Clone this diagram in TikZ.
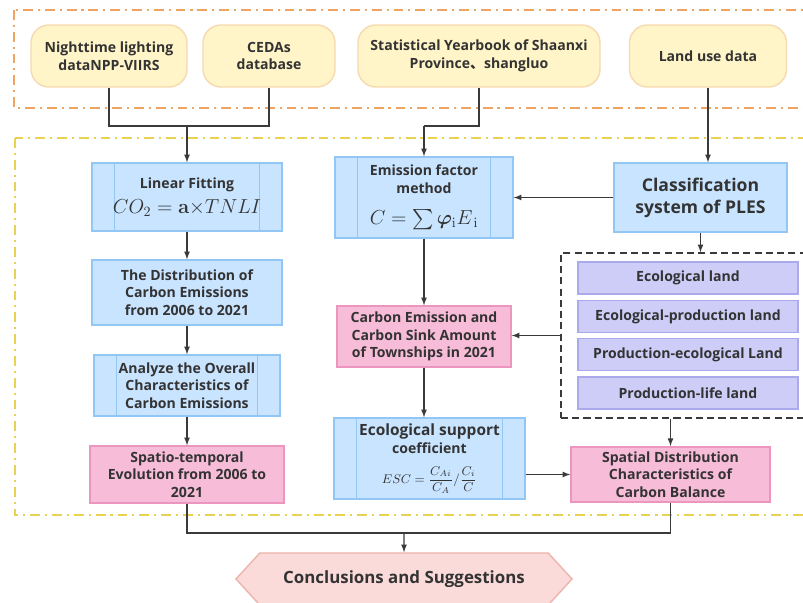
\documentclass[tikz,border=0pt]{standalone}
\usepackage{amsmath,amssymb}
\usepackage{bm}
\usepackage[no-math]{fontspec}
\setmainfont{Open Sans}
\newfontfamily\cjk{Noto Sans CJK SC}
\usetikzlibrary{arrows,shapes.symbols}
\definecolor{txtgray}{HTML}{333333}
\definecolor{linegray}{HTML}{3A3A3A}
\definecolor{srcfill}{HTML}{FFF5C8}
\definecolor{srcline}{HTML}{F7D9AE}
\definecolor{bluefill}{HTML}{C9E4FF}
\definecolor{blueline}{HTML}{92C6F4}
\definecolor{pinkfill}{HTML}{F7BCD8}
\definecolor{pinkline}{HTML}{EC95BF}
\definecolor{lavfill}{HTML}{CDCDF8}
\definecolor{lavline}{HTML}{A9A9EC}
\definecolor{hexfill}{HTML}{FADBD9}
\definecolor{hexline}{HTML}{EEB4AB}
\definecolor{orangeframe}{HTML}{F0A462}
\definecolor{yellowframe}{HTML}{EAD150}
\tikzset{arrow/.style={->, >=latex, draw=linegray, line width=0.9pt}}
\tikzset{link/.style={draw=linegray, line width=0.9pt}}
\tikzset{boxtext/.style={text=txtgray, align=center, font=\bfseries\fontsize{10}{12.5}\selectfont}}
\tikzset{source/.style={boxtext, draw=srcline, fill=srcfill, line width=1pt, rounded corners=0.45cm, minimum height=1.55cm}}
\tikzset{bluebox/.style={boxtext, draw=blueline, fill=bluefill, line width=1pt, minimum width=4.75cm}}
\tikzset{subproc/.style={bluebox, path picture={
    \draw[blueline, line width=1pt] ([xshift=0.56cm]path picture bounding box.north west) -- ([xshift=0.56cm]path picture bounding box.south west);
    \draw[blueline, line width=1pt] ([xshift=-0.56cm]path picture bounding box.north east) -- ([xshift=-0.56cm]path picture bounding box.south east);}}}
\tikzset{pinkbox/.style={boxtext, draw=pinkline, fill=pinkfill, line width=1pt}}
\tikzset{landbox/.style={boxtext, draw=lavline, fill=lavfill, line width=1pt, minimum width=5.5cm, minimum height=0.8cm}}
\tikzset{frame/.style={line width=1.6pt, dash pattern=on 7pt off 3.5pt on 1.5pt off 3.5pt}}

\begin{document}
\begin{tikzpicture}[x=0.025cm, y=-0.025cm]
    \useasboundingbox (0,0) rectangle (803,603);
    \draw[frame, orangeframe] (14,10) rectangle (830,108);
    \draw[frame, yellowframe] (15,138) rectangle (830,515);

    \node[source, minimum width=3.9cm] (night) at (109,56) {Nighttime lighting\\dataNPP-VIIRS};
    \node[source, minimum width=3.3cm] (cedas) at (269,56) {CEDAs\\database};
    \node[source, minimum width=6.05cm] (stat) at (479,56) {Statistical Yearbook of Shaanxi\\Province{\cjk 、}shangluo};
    \node[source, minimum width=3.925cm] (land) at (708,56) {Land use data};

    \node[subproc, minimum height=1.7cm] (lin) at (187,197) {Linear Fitting\\[5pt]{\Large$CO_2=\mathbf{a}{\times}TNLI$}};
    \node[bluebox, minimum height=1.625cm] (dist) at (187,292.5) {The Distribution of\\Carbon Emissions\\from 2006 to 2021};
    \node[subproc, minimum width=4.65cm, minimum height=1.525cm] (anal) at (187,385.5) {Analyze the Overall\\Characteristics of\\Carbon Emissions};
    \node[pinkbox, minimum width=4.85cm, minimum height=1.425cm] (spt) at (187,474.5) {Spatio-temporal\\Evolution from 2006 to\\2021};

    \node[subproc, minimum width=4.45cm, minimum height=2.025cm] (emis) at (424,197.5) {Emission factor\\method\\[10pt]{\Large$C=\sum\bm{\varphi}_{\mathrm{i}}E_{\,\mathrm{i}}$}};
    \node[pinkbox, minimum width=4.35cm, minimum height=1.525cm] (carb) at (424,336.5) {Carbon Emission and\\Carbon Sink Amount\\of Townships in 2021};
    \node[subproc, minimum width=4.775cm, minimum height=2.025cm] (eco) at (429.5,458.5) {\fontsize{11}{13}\selectfont Ecological support\\coefficient\\[9pt]{\small$ESC=\dfrac{C_{Ai}}{C_A}/\dfrac{C_i}{C}$}};

    \node[bluebox, minimum width=4.325cm, minimum height=1.725cm, font=\bfseries\fontsize{12.5}{15.5}\selectfont] (class) at (700.5,197.5) {Classification\\system of PLES};
    \node[draw=linegray, line width=1pt, dash pattern=on 5pt off 3pt, minimum width=6.35cm, minimum height=4.125cm] (ples) at (688,335.5) {};
    \node[landbox] (eland) at (688,278) {Ecological land};
    \node[landbox] (epland) at (688,316.5) {Ecological-production land};
    \node[landbox] (peland) at (688,354.5) {Production-ecological Land};
    \node[landbox] (plland) at (688,393) {Production-life land};
    \node[pinkbox, minimum width=4.975cm, minimum height=1.375cm] (spat) at (670.5,474.5) {Spatial Distribution\\Characteristics of\\Carbon Balance};

    \node[boxtext, signal, signal to=west and east, signal pointer angle=95, draw=hexline, fill=hexfill, line width=1pt, minimum width=8.4cm, minimum height=1.3cm, font=\bfseries\fontsize{12}{14}\selectfont] (concl) at (404,579) {Conclusions and Suggestions};

    \coordinate (j1) at (187,126);
    \coordinate (j2) at (424,126);
    \coordinate (j3) at (404,533);
    \draw[link] (night) |- (j1) -| (cedas);
    \draw[arrow] (j1) -- (lin);
    \draw[link] (stat) |- (j2);
    \draw[arrow] (j2) -- (emis);
    \draw[arrow] (land) -- (land |- class.north);
    \draw[arrow] (lin) -- (dist);
    \draw[arrow] (dist) -- (anal);
    \draw[arrow] (anal) -- (spt);
    \draw[arrow] (class) -- (emis);
    \draw[arrow] (class) -- (class |- ples.north);
    \draw[arrow] (emis) -- (carb);
    \draw[arrow] (ples.west) -- (ples.west -| carb.east);
    \draw[arrow] (carb) -- (carb |- eco.north);
    \draw[arrow] (eco.east |- spat) -- (spat);
    \draw[arrow] (ples.south -| spat) -- (spat);
    \draw[link] (spt) |- (j3) -| (spat);
    \draw[arrow] (j3) -- (concl);
\end{tikzpicture}
\end{document}
